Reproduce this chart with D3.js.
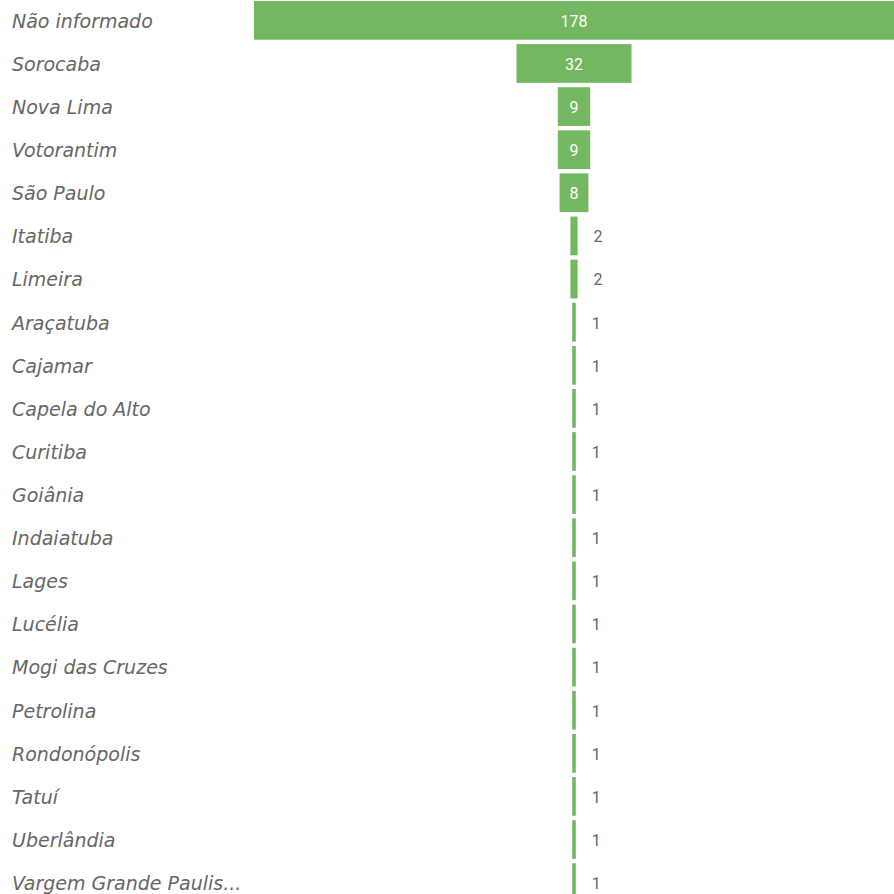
<!DOCTYPE html>
<html>
<head>
<meta charset="utf-8">
<script src="https://cdn.jsdelivr.net/npm/d3@7"></script>
<style>
  html, body { margin: 0; padding: 0; background: #fff; overflow: hidden; }
  svg { display: block; }
</style>
</head>
<body>
<svg id="chart" width="894" height="894"></svg>
<script>
const categories = [
  "Não informado", "Sorocaba", "Nova Lima", "Votorantim", "São Paulo",
  "Itatiba", "Limeira", "Araçatuba", "Cajamar", "Capela do Alto",
  "Curitiba", "Goiânia", "Indaiatuba", "Lages", "Lucélia",
  "Mogi das Cruzes", "Petrolina", "Rondonópolis", "Tatuí", "Uberlândia",
  "Vargem Grande Paulista"
];
const values = [178, 32, 9, 9, 8, 2, 2, 1, 1, 1, 1, 1, 1, 1, 1, 1, 1, 1, 1, 1, 1];

const svg = d3.select("#chart");
const LABEL_FONT = "'DejaVu Sans', sans-serif";
const NUM_FONT = "Roboto, 'DejaVu Sans', sans-serif";

const y = d3.scaleBand()
  .domain(categories)
  .range([0, 903])
  .paddingInner(0.102)
  .paddingOuter(0.023);

const center = 574;
const halfMax = 320;
const w = d3.scaleLinear().domain([0, d3.max(values)]).range([0, halfMax * 2]);

const data = categories.map((c, i) => ({ c, v: values[i] }));

// Category labels (truncate to fit)
const labelMaxW = 230;
const labels = svg.append("g").selectAll("text")
  .data(data).join("text")
  .attr("x", 12)
  .attr("y", d => y(d.c) + y.bandwidth() / 2)
  .attr("dy", "0.39em")
  .attr("font-family", LABEL_FONT)
  .attr("font-style", "italic")
  .attr("font-size", 19)
  .attr("fill", "#666666")
  .text(d => d.c);
labels.each(function(d) {
  const t = d3.select(this);
  let s = d.c;
  if (this.getComputedTextLength() > labelMaxW) {
    while (s.length > 1) {
      s = s.slice(0, -1);
      t.text(s.trimEnd() + "...");
      if (this.getComputedTextLength() <= labelMaxW) break;
    }
  }
});

// Bars
svg.append("g").selectAll("rect")
  .data(data).join("rect")
  .attr("x", d => center - w(d.v) / 2)
  .attr("y", d => y(d.c))
  .attr("width", d => w(d.v))
  .attr("height", y.bandwidth())
  .attr("fill", "#73b761");

// Value labels
svg.append("g").selectAll("text")
  .data(data).join("text")
  .attr("y", d => y(d.c) + y.bandwidth() / 2)
  .attr("dy", "0.4em")
  .attr("font-family", NUM_FONT)
  .attr("font-size", 16)
  .text(d => d.v)
  .each(function(d) {
    const t = d3.select(this);
    const tw = this.getComputedTextLength();
    if (tw + 6 < w(d.v)) {
      t.attr("x", center).attr("text-anchor", "middle").attr("fill", "#ffffff");
    } else {
      t.attr("x", center + w(d.v) / 2 + 16).attr("text-anchor", "start").attr("fill", "#666666");
    }
  });
</script>
</body>
</html>
